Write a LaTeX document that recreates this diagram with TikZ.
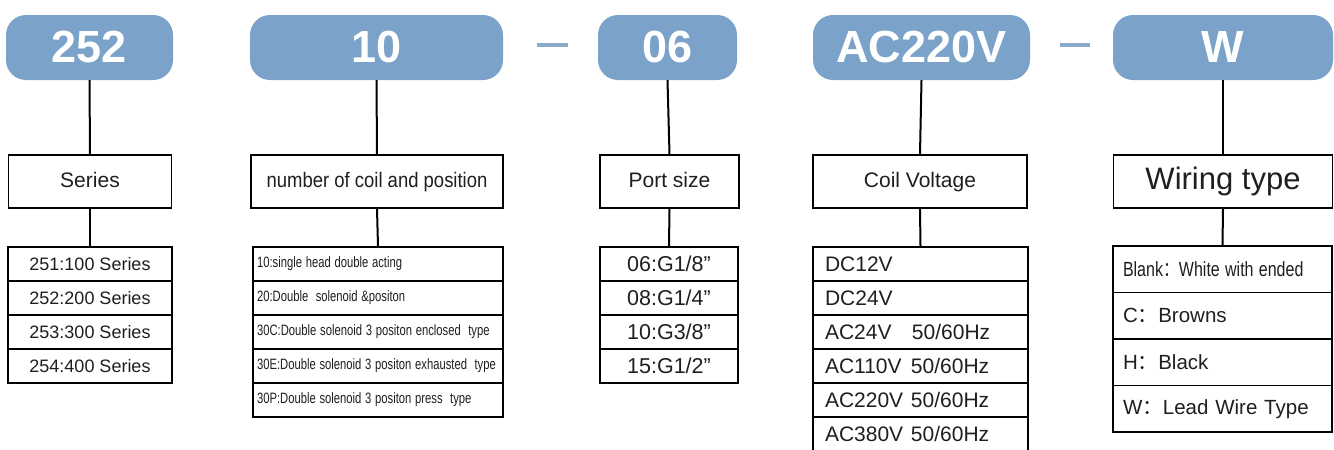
\documentclass[tikz,border=0pt]{standalone}
\usepackage{fontspec}
\usepackage{graphicx}
\setmainfont{Liberation Sans}
\newfontfamily\cjk{Noto Sans CJK SC}

\definecolor{pillblue}{RGB}{123,163,201}
\definecolor{dashblue}{RGB}{138,170,202}
\newcommand{\fs}[1]{\fontsize{#1}{#1}\selectfont}
\newcommand{\narrow}[2]{\scalebox{#1}[1]{#2}}
\newcommand{\wcolon}{{\cjk ：}}

\tikzset{pill/.style={rounded corners=20pt, fill=pillblue, text=white, font=\fs{45}\bfseries, minimum height=65pt, inner sep=0pt},
	headbox/.style={draw, line width=1.8pt, fill=white, text=black!88, minimum height=53pt, inner sep=0pt, font=\fs{21}, text height=15pt, text depth=4pt},
	rowc/.style={draw, line width=1.8pt, text=black!88, minimum height=34pt, inner sep=0pt},
	rowl/.style={draw, line width=1.8pt, text=black!88, minimum height=34pt, align=left, inner ysep=0pt},
	conn/.style={line width=2pt},
	sepline/.style={line width=4pt, dashblue}}

\begin{document}
\begin{tikzpicture}[x=1pt, y=-1pt]
	\fill[white] (0,0) rectangle (1334,450);
	\useasboundingbox (0,0) rectangle (1334,450);
	% Draw the code pills
	\node[pill, minimum width=167pt] (p1) at (89.5,47.5) {252};
	\node[pill, minimum width=253pt] (p2) at (376.5,47.5) {10};
	\node[pill, minimum width=139pt] (p3) at (667.5,47.5) {06};
	\node[pill, minimum width=217pt] (p4) at (921.5,47.5) {AC220V};
	\node[pill, minimum width=220pt] (p5) at (1223,47.5) {W};
	
	% Draw the separators
	\coordinate (d1a) at (537,45);
	\coordinate (d1b) at (568,45);
	\coordinate (d2a) at (1060,45);
	\coordinate (d2b) at (1090,45);
	\draw[sepline] (d1a) -- (d1b);
	\draw[sepline] (d2a) -- (d2b);
	
	% Draw the headings
	\node[headbox, minimum width=163pt] (h1) at (90,181.5) {Series};
	\node[headbox, minimum width=252pt, font=\fs{21}] (h2) at (377,181.5) {\narrow{0.88}{number of coil and position}};
	\node[headbox, minimum width=139pt] (h3) at (669.5,181.5) {Port size};
	\node[headbox, minimum width=214pt] (h4) at (920,181.5) {Coil Voltage};
	\node[headbox, minimum width=219pt, font=\fs{31}, text height=22pt, text depth=6pt] (h5) at (1223,181.5) {Wiring type};
	
	% Series list
	\node[rowc, minimum width=164pt, font=\fs{18}] (s1) at (90,264) {251:100 Series};
	\node[rowc, minimum width=164pt, font=\fs{18}] (s2) at (90,298) {252:200 Series};
	\node[rowc, minimum width=164pt, font=\fs{18}] (s3) at (90,332) {253:300 Series};
	\node[rowc, minimum width=164pt, font=\fs{18}] (s4) at (90,366) {254:400 Series};
	
	% Coil and position list
	\node[rowl, text width=242pt, inner xsep=4pt, font=\fs{15}] (n1) at (378,264) {\narrow{0.75}{10:single head double acting}};
	\node[rowl, text width=242pt, inner xsep=4pt, font=\fs{15}] (n2) at (378,298) {\narrow{0.75}{20:Double\ \ solenoid \&positon}};
	\node[rowl, text width=242pt, inner xsep=4pt, font=\fs{15}] (n3) at (378,332) {\narrow{0.75}{30C:Double solenoid 3 positon enclosed\ \ type}};
	\node[rowl, text width=242pt, inner xsep=4pt, font=\fs{15}] (n4) at (378,366) {\narrow{0.75}{30E:Double solenoid 3 positon exhausted\ \ type}};
	\node[rowl, text width=242pt, inner xsep=4pt, font=\fs{15}] (n5) at (378,400) {\narrow{0.75}{30P:Double solenoid 3 positon press\ \ type}};
	
	% Port size list
	\node[rowc, minimum width=138pt, font=\fs{21.5}] (t1) at (669,264) {06:G1/8”};
	\node[rowc, minimum width=138pt, font=\fs{21.5}] (t2) at (669,298) {08:G1/4”};
	\node[rowc, minimum width=138pt, font=\fs{21.5}] (t3) at (669,332) {10:G3/8”};
	\node[rowc, minimum width=138pt, font=\fs{21.5}] (t4) at (669,366) {15:G1/2”};
	
	% Coil voltage list
	\node[rowl, text width=191pt, inner xsep=12pt, font=\fs{21}] (v1) at (920.5,264) {DC12V};
	\node[rowl, text width=191pt, inner xsep=12pt, font=\fs{21}] (v2) at (920.5,298) {DC24V};
	\node[rowl, text width=191pt, inner xsep=12pt, font=\fs{21}] (v3) at (920.5,332) {\makebox[87pt][l]{AC24V}50/60Hz};
	\node[rowl, text width=191pt, inner xsep=12pt, font=\fs{21}] (v4) at (920.5,366) {\makebox[86pt][l]{AC110V}50/60Hz};
	\node[rowl, text width=191pt, inner xsep=12pt, font=\fs{21}] (v5) at (920.5,400) {\makebox[86pt][l]{AC220V}50/60Hz};
	\node[rowl, text width=191pt, inner xsep=12pt, font=\fs{21}] (v6) at (920.5,434) {\makebox[86pt][l]{AC380V}50/60Hz};
	
	% Wiring type list
	\node[rowl, text width=199pt, inner xsep=10pt, minimum height=46.5pt, font=\fs{20.5}] (w1) at (1222.5,269.25) {\narrow{0.78}{Blank\wcolon White with ended}};
	\node[rowl, text width=199pt, inner xsep=10pt, minimum height=46.5pt, font=\fs{20.5}] (w2) at (1222.5,315.75) {C\wcolon Browns};
	\node[rowl, text width=199pt, inner xsep=10pt, minimum height=46.5pt, font=\fs{20.5}] (w3) at (1222.5,362.25) {H\wcolon Black};
	\node[rowl, text width=199pt, inner xsep=10pt, minimum height=46.5pt, font=\fs{20.5}] (w4) at (1222.5,408.75) {W\wcolon Lead Wire Type};
	
	% Draw the connectors
	\draw[conn] (p1.south) -- (h1.north);
	\draw[conn] (p2.south) -- (h2.north);
	\draw[conn] (p3.south) -- (h3.north);
	\draw[conn] (p4.south) -- (h4.north);
	\draw[conn] (p5.south) -- (h5.north);
	\draw[conn] (h1.south) -- (s1.north);
	\draw[conn] (h2.south) -- (n1.north);
	\draw[conn] (h3.south) -- (t1.north);
	\draw[conn] (h4.south) -- (v1.north);
	\draw[conn] (h5.south) -- (w1.north);
\end{tikzpicture}
\end{document}
